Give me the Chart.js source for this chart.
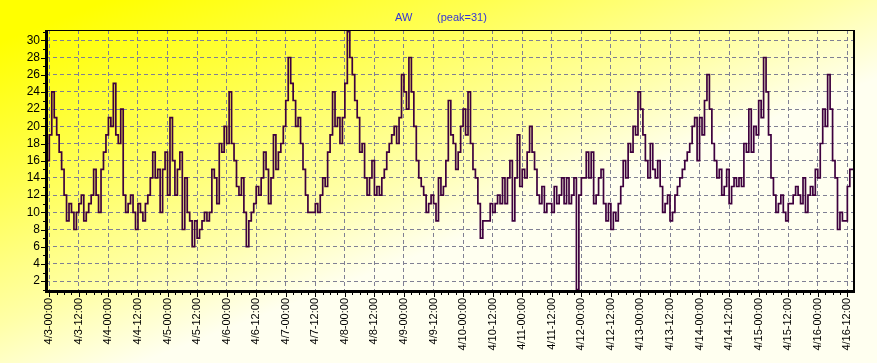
<!DOCTYPE html>
<html>
<head>
<meta charset="utf-8">
<script src="https://cdn.jsdelivr.net/npm/chart.js@4.4.1/dist/chart.umd.min.js"></script>
<style>
  html, body { margin: 0; padding: 0; background: #ffff80; }
  #wrap { width: 877px; height: 363px; position: relative; }
</style>
</head>
<body>
<div id="wrap"><canvas id="aw"></canvas></div>
<script>
// hourly AW values, hour 0 = 4/3-00:00
const firstHour = -2;
const lead  = [17, 13];
const apr03 = [16,19,24,21,19,17,15,12,9,11,10,8,10,11,12,9,10,11,12,15,12,10,15,17];
const apr04 = [19,21,20,25,19,18,22,12,10,11,12,10,8,11,10,9,11,12,14,17,14,15,10,15];
const apr05 = [17,12,21,16,12,15,17,8,14,10,9,6,9,7,8,9,10,9,10,15,14,11,18,17];
const apr06 = [20,18,24,18,16,13,12,14,10,6,9,10,11,13,12,14,17,15,11,14,19,15,17,18];
const apr07 = [20,23,28,25,23,20,21,18,15,12,10,10,10,11,10,12,14,13,17,19,24,20,21,18];
const apr08 = [21,25,31,28,26,23,21,17,18,14,12,14,16,12,13,12,14,15,17,18,19,20,18,21];
const apr09 = [26,24,22,28,24,20,16,14,13,12,10,11,12,11,9,14,12,13,16,23,19,18,15,17];
const apr10 = [20,22,19,24,18,15,14,11,7,9,9,9,11,10,11,12,11,14,11,14,16,9,14,19];
const apr11 = [13,15,14,17,20,17,15,12,11,13,10,11,11,10,13,11,12,14,11,14,11,12,14,1];
const apr12 = [12,14,14,17,14,17,11,12,14,15,11,9,11,8,10,9,11,13,16,14,18,17,20,19];
const apr13 = [24,22,19,16,14,18,15,14,16,13,10,11,12,9,10,12,13,14,15,16,17,18,20,21];
const apr14 = [16,21,19,23,26,22,18,16,14,15,12,13,15,11,13,14,13,14,13,18,17,22,17,20];
const apr15 = [19,23,21,28,24,19,14,12,10,11,12,10,9,11,11,12,13,12,11,14,10,12,13,12];
const apr16 = [15,14,18,22,20,26,22,16,14,8,10,9,9,13,15,15];

const yTicks = [2,4,6,8,10,12,14,16,18,20,22,24,26,28,30];
const xTicks = [];
for (let h = 0; h <= 324; h += 12) xTicks.push(h);

const titleName = "AW";
const titlePeak = "(peak=31)";

const awValues = [].concat(lead, apr03, apr04, apr05, apr06, apr07, apr08, apr09,
  apr10, apr11, apr12, apr13, apr14, apr15, apr16);
const awPoints = awValues.map((v, i) => ({ x: firstHour + i, y: v }));

function hourLabel(h) {
  const day = 3 + Math.floor(h / 24);
  const hh = String(h % 24).padStart(2, "0");
  return "4/" + day + "-" + hh + ":00";
}

const FONT = "'Liberation Sans', Arial, sans-serif";
const gridColor = "#808094";

const bgPlugin = {
  id: "bg",
  beforeDraw(chart) {
    const { ctx, width, height } = chart;
    const g = ctx.createLinearGradient(0, 0, 140, height);
    g.addColorStop(0, "#ffff00");
    g.addColorStop(0.1, "#ffff00");
    g.addColorStop(0.45, "#ffff50");
    g.addColorStop(0.78, "#ffffa8");
    g.addColorStop(1, "#fffff0");
    ctx.save();
    ctx.fillStyle = g;
    ctx.fillRect(0, 0, width, height);
    ctx.restore();
  },
};

const framePlugin = {
  id: "frame",
  afterDatasetsDraw(chart) {
    const { ctx, chartArea: a, scales } = chart;
    ctx.save();
    ctx.fillStyle = "#000";
    // frame
    ctx.fillRect(a.left, a.top, a.right - a.left, 1);
    ctx.fillRect(a.right - 1, a.top, 2, a.bottom - a.top);
    ctx.fillRect(a.left - 1, a.top, 3, a.bottom - a.top + 2);
    ctx.fillRect(a.left - 1, a.bottom - 1, a.right - a.left + 2, 3);
    // x ticks
    for (let h = 0; h <= 326; h += 3) {
      const x = Math.round(scales.x.getPixelForValue(h));
      const len = h % 12 === 0 ? 4 : 2;
      ctx.fillRect(x, a.bottom + 2, 1, len);
    }
    // y ticks
    for (let v = 1; v <= 31; v++) {
      const y = Math.round(scales.y.getPixelForValue(v));
      if (v % 2 === 0) ctx.fillRect(a.left - 5, y, 4, 1);
      else ctx.fillRect(a.left - 3, y, 2, 1);
    }
    // title
    ctx.font = "11px " + FONT;
    ctx.fillStyle = "#3434d8";
    ctx.textBaseline = "middle";
    ctx.fillText(titleName, 395, 18);
    ctx.fillText(titlePeak, 437, 18);
    ctx.restore();
  },
};

const ctx = document.getElementById("aw").getContext("2d");
new Chart(ctx, {
  type: "line",
  data: {
    datasets: [
      {
        label: "AW",
        data: awPoints,
        borderColor: "#3e003e",
        borderWidth: 1.7,
        pointRadius: 0,
        stepped: "after",
        fill: false,
      },
    ],
  },
  options: {
    responsive: true,
    maintainAspectRatio: false,
    animation: false,
    layout: { padding: { top: 30, right: 23, left: 0, bottom: 0 } },
    plugins: {
      legend: { display: false },
      title: { display: false },
      tooltip: { enabled: false },
    },
    scales: {
      x: {
        type: "linear",
        min: -1.34,
        max: 326.7,
        afterBuildTicks: (s) => { s.ticks = xTicks.map((v) => ({ value: v })); },
        afterFit: (s) => { s.height = 72; },
        ticks: {
          autoSkip: false,
          minRotation: 90,
          maxRotation: 90,
          padding: 7,
          color: "#000",
          font: { size: 11, family: FONT },
          callback: (v) => hourLabel(v),
        },
        grid: { color: gridColor, lineWidth: 1, drawTicks: false },
        border: { display: false, dash: [4, 3] },
      },
      y: {
        min: 0.85,
        max: 31.2,
        afterBuildTicks: (s) => { s.ticks = yTicks.map((v) => ({ value: v })); },
        afterFit: (s) => { s.width = 46; },
        ticks: {
          padding: 6,
          color: "#000",
          font: { size: 12, family: FONT },
        },
        grid: { color: gridColor, lineWidth: 1, drawTicks: false },
        border: { display: false, dash: [4, 3] },
      },
    },
  },
  plugins: [bgPlugin, framePlugin],
});
</script>
</body>
</html>
